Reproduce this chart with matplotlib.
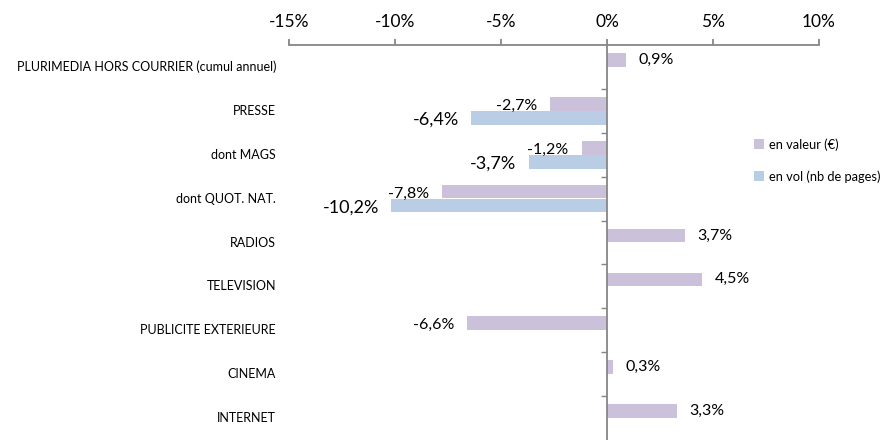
import matplotlib
matplotlib.use("Agg")
import matplotlib.pyplot as plt
from matplotlib.patches import Patch
from matplotlib.transforms import blended_transform_factory, offset_copy
import numpy as np

plt.rcParams['font.family'] = ['Lato', 'DejaVu Sans']

categories = ["PLURIMEDIA HORS COURRIER (cumul annuel)", "PRESSE", "dont MAGS",
              "dont QUOT. NAT.", "RADIOS", "TELEVISION", "PUBLICITE EXTERIEURE",
              "CINEMA", "INTERNET"]
valeur = [0.9, -2.7, -1.2, -7.8, 3.7, 4.5, -6.6, 0.3, 3.3]
volume = [None, -6.4, -3.7, -10.2, None, None, None, None, None]
xticks = [-15, -10, -5, 0, 5, 10]
series_names = ["en valeur (€)", "en vol (nb de pages)"]

c_val = "#CCC1DA"
c_vol = "#B9CDE5"
axis_col = "#868686"

fig = plt.figure(figsize=(8.96, 4.40), dpi=100)
ax = fig.add_axes([289/896, 0.0, (819-289)/896, 1 - 45/440])

y = np.arange(len(categories))
h = 0.31
off = 0.16

ax.barh(y - off, valeur, height=h, color=c_val, zorder=2)
vol_vals = [v if v is not None else 0 for v in volume]
vol_mask = [v is not None for v in volume]
ax.barh(y[vol_mask] + off, np.array(vol_vals)[vol_mask], height=h, color=c_vol, zorder=2)

ax.set_xlim(-15, 10)
ax.set_ylim(len(categories) - 0.5, -0.5)

def fmt(v):
    return ("%.1f" % v).replace(".", ",") + "%"

for yi, v in zip(y, valeur):
    if v >= 0:
        tr = offset_copy(ax.transData, fig=fig, x=12, y=0, units='dots')
        ax.text(v, yi - off, fmt(v), ha='left', va='center', fontsize=11.5, transform=tr)
    else:
        tr = offset_copy(ax.transData, fig=fig, x=-13, y=-2, units='dots')
        ax.text(v, yi - off, fmt(v), ha='right', va='center', fontsize=11.5, transform=tr)
for yi, v in zip(y, volume):
    if v is None:
        continue
    tr = offset_copy(ax.transData, fig=fig, x=-12, y=-2, units='dots')
    ax.text(v, yi + off, fmt(v), ha='right', va='center', fontsize=13, transform=tr)

# spines
for s in ['right', 'bottom']:
    ax.spines[s].set_visible(False)
ax.spines['top'].set_color(axis_col)
ax.spines['top'].set_linewidth(1.3)
ax.spines['left'].set_position(('data', 0))
ax.spines['left'].set_color(axis_col)
ax.spines['left'].set_linewidth(1.3)

ax.xaxis.tick_top()
ax.set_xticks(xticks)
ax.set_xticklabels([f"{t}%" for t in xticks], fontsize=12.5)
ax.tick_params(axis='x', direction='out', length=4, color=axis_col, width=1.3, pad=7)

ax.set_yticks(y)
ax.set_yticklabels([])
ax.tick_params(axis='y', which='major', length=0)
ax.set_yticks(np.arange(len(categories) - 1) + 0.5, minor=True)
ax.tick_params(axis='y', which='minor', direction='out', length=4, color=axis_col, width=1.0)

btr = blended_transform_factory(ax.transAxes, ax.transData)
btr = offset_copy(btr, fig=fig, x=-13, y=0, units='dots')
for yi, c in zip(y, categories):
    ax.text(0, yi, c, ha='right', va='center', fontsize=9, transform=btr)

handles = [Patch(facecolor=c_val), Patch(facecolor=c_vol)]
fig.legend(handles, series_names, loc='upper left', bbox_to_anchor=(745/896, 1 - 129/440),
           frameon=False, fontsize=9.3, handlelength=0.8, handleheight=0.8,
           handletextpad=0.35, labelspacing=1.5, borderaxespad=0.3)

fig.savefig("out.png", dpi=100)
